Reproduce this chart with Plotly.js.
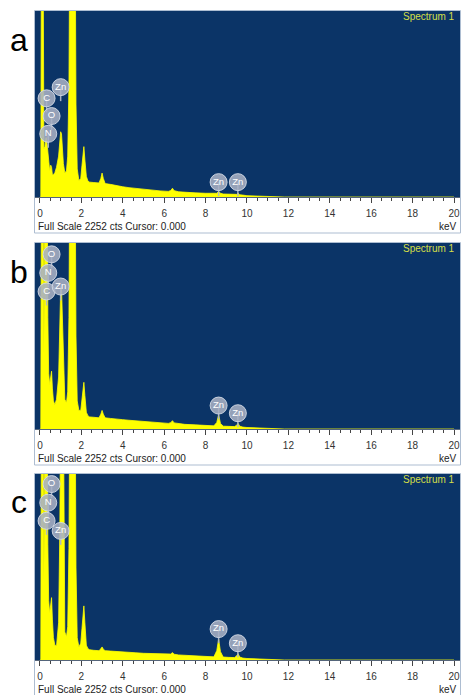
<!DOCTYPE html>
<html><head><meta charset="utf-8">
<script src="https://cdn.plot.ly/plotly-3.0.1.min.js"></script>
<style>html,body{margin:0;padding:0;background:#fff;}#chart{width:461px;height:695px;}</style>
</head><body><div id="chart"></div>
<script>
// ---------- data ----------
const energyKeV = [
  0.00, 0.04, 0.07, 0.15, 0.19, 0.24, 0.28, 0.30, 0.35, 0.38,
  0.42, 0.47, 0.52, 0.56, 0.60, 0.65, 0.72, 0.80, 0.90, 0.96,
  1.00, 1.04, 1.08, 1.13, 1.20, 1.28, 1.34, 1.40, 1.44, 1.70,
  1.74, 1.80, 1.88, 1.97, 2.03, 2.08, 2.12, 2.17, 2.24, 2.32,
  2.40, 2.60, 2.85, 2.94, 3.00, 3.06, 3.15, 3.40, 3.70, 4.00,
  4.30, 4.60, 5.00, 5.40, 5.80, 6.20, 6.32, 6.40, 6.48, 6.70,
  7.00, 7.50, 8.00, 8.40, 8.54, 8.63, 8.72, 8.85, 9.10, 9.40,
  9.50, 9.57, 9.65, 9.80, 10.00, 10.50, 11.00, 11.50, 11.75, 11.80,
  20.00];
const countsA = [
  0, 0, 3200, 3200, 585, 610, 700, 720, 630, 540,
  430, 315, 385, 360, 270, 270, 295, 360, 495, 675,
  790, 765, 610, 405, 295, 315, 495, 1350, 3200, 3200,
  1125, 340, 200, 225, 385, 585, 610, 450, 250, 190,
  180, 175, 170, 225, 290, 225, 162, 153, 135, 124,
  113, 104, 90, 81, 74, 68, 79, 106, 77, 63,
  56, 50, 45, 41, 45, 68, 45, 36, 32, 27,
  32, 45, 27, 23, 16, 11, 9, 9, 7, 0,
  0];
const countsB = [
  0, 0, 3200, 3200, 900, 3200, 3200, 3200, 3200, 1350,
  675, 540, 650, 700, 495, 340, 295, 360, 630, 1350,
  1690, 1710, 1350, 675, 360, 315, 450, 1350, 3200, 3200,
  1125, 340, 225, 225, 360, 540, 565, 405, 203, 158,
  146, 142, 135, 180, 225, 180, 135, 128, 117, 113,
  106, 99, 90, 81, 74, 68, 77, 101, 74, 63,
  56, 50, 41, 38, 79, 171, 68, 34, 32, 29,
  45, 68, 34, 23, 18, 14, 11, 9, 7, 0,
  0];
const countsC = [
  0, 0, 3200, 3200, 945, 3200, 3200, 3200, 3200, 1400,
  720, 565, 675, 755, 495, 270, 180, 170, 450, 1575,
  3200, 3200, 3200, 3200, 340, 280, 405, 1350, 3200, 3200,
  1125, 270, 158, 203, 385, 610, 655, 450, 180, 135,
  124, 117, 113, 135, 158, 131, 113, 108, 101, 97,
  92, 88, 81, 77, 72, 68, 72, 90, 70, 61,
  56, 50, 41, 38, 113, 252, 101, 36, 32, 29,
  50, 77, 36, 23, 18, 14, 11, 9, 7, 0,
  0];
const fullScaleCts = 2252;
const panelLetters = ['a', 'b', 'c'];

const labelNamesA = ['C', 'Zn', 'O', 'N', 'Zn', 'Zn'];
const labelKeVA   = [0.32, 1.00, 0.56, 0.40, 8.63, 9.56];
const labelCtsA   = [1195, 1330, 980, 765, 180, 180];
const labelNamesB = ['O', 'N', 'C', 'Zn', 'Zn', 'Zn'];
const labelKeVB   = [0.56, 0.40, 0.32, 1.00, 8.63, 9.56];
const labelCtsB   = [2115, 1890, 1665, 1725, 284, 191];
const labelNamesC = ['O', 'N', 'C', 'Zn', 'Zn', 'Zn'];
const labelKeVC   = [0.56, 0.40, 0.32, 1.00, 8.63, 9.56];
const labelCtsC   = [2130, 1905, 1685, 1563, 374, 203];

const xTickVals = [0, 2, 4, 6, 8, 10, 12, 14, 16, 18, 20];
const xTickText = ['0', '2', '4', '6', '8', '10', '12', '14', '16', '18', '20'];
const footerText = 'Full Scale 2252 cts Cursor: 0.000';
const unitText = 'keV';
const spectrumName = 'Spectrum 1';

// ---------- layout ----------
const W = 461, H = 695;
const X = p => p / W, Y = p => 1 - p / H;
const NAVY = '#0b3467', YELLOW = '#ffff00';
const geom = [{top: 11, bottom: 197}, {top: 243, bottom: 429}, {top: 474, bottom: 660}];
const series = [countsA, countsB, countsC];
const labels = [
  {n: labelNamesA, x: labelKeVA, y: labelCtsA},
  {n: labelNamesB, x: labelKeVB, y: labelCtsB},
  {n: labelNamesC, x: labelKeVC, y: labelCtsC}];

const data = [], shapes = [], annotations = [];
const layout = {
  width: W, height: H, margin: {l: 0, r: 0, t: 0, b: 0},
  paper_bgcolor: '#ffffff', plot_bgcolor: NAVY, showlegend: false, hovermode: false
};

geom.forEach((g, i) => {
  const sfx = i === 0 ? '' : String(i + 1);
  const hPx = g.bottom - g.top;
  layout['xaxis' + sfx] = {
    domain: [X(35), X(460)], range: [-0.24, 20.29], anchor: 'y' + sfx,
    tickvals: xTickVals, ticktext: xTickText, ticks: 'outside', ticklen: 5,
    tickcolor: '#444', tickwidth: 1, ticklabelstandoff: 2, ticklabeloverflow: 'allow',
    minor: {dtick: 0.5, tick0: 0, ticks: 'outside', ticklen: 3, tickcolor: '#444', tickwidth: 1},
    showline: true, linecolor: '#55657a', linewidth: 1, mirror: false,
    showgrid: false, zeroline: false, fixedrange: true,
    tickfont: {family: 'Arial, Liberation Sans, sans-serif', size: 10, color: '#333'}
  };
  layout['yaxis' + sfx] = {
    domain: [Y(g.bottom), Y(g.top)], range: [0, fullScaleCts], anchor: 'x' + sfx,
    visible: false, showgrid: false, zeroline: false, fixedrange: true
  };
  data.push({
    type: 'scatter', mode: 'lines', x: energyKeV, y: series[i],
    xaxis: 'x' + sfx, yaxis: 'y' + sfx, fill: 'tozeroy', fillcolor: YELLOW,
    line: {color: YELLOW, width: 0.8}
  });
  const stemCts = 14 * fullScaleCts / hPx;
  const L = labels[i];
  data.push({
    type: 'scatter', mode: 'markers+text', x: L.x, y: L.y, text: L.n,
    xaxis: 'x' + sfx, yaxis: 'y' + sfx, cliponaxis: false,
    textposition: 'middle center',
    textfont: {family: 'Arial, Liberation Sans, sans-serif', size: 9.5, color: '#ffffff'},
    marker: {size: 17, color: 'rgba(168,176,196,0.88)', line: {color: 'rgba(212,218,230,0.9)', width: 1}},
    error_y: {type: 'data', symmetric: false, array: L.y.map(() => 0), arrayminus: L.y.map(() => stemCts),
      color: 'rgba(175,182,200,0.95)', thickness: 1.5, width: 0}
  });
  shapes.push({type: 'rect', xref: 'paper', yref: 'paper', x0: X(34.5), x1: X(460.5),
    y0: Y(g.bottom + 36), y1: Y(g.top - 0.5), line: {color: '#adbdd1', width: 1},
    fillcolor: 'rgba(0,0,0,0)', layer: 'above'});
  annotations.push({xref: 'paper', yref: 'paper', x: X(36), y: Y(g.bottom + 29),
    xanchor: 'left', yanchor: 'middle', showarrow: false, text: footerText,
    font: {family: 'Arial, Liberation Sans, sans-serif', size: 10, color: '#222'}});
  annotations.push({xref: 'paper', yref: 'paper', x: X(459), y: Y(g.bottom + 29),
    xanchor: 'right', yanchor: 'middle', showarrow: false, text: unitText,
    font: {family: 'Arial, Liberation Sans, sans-serif', size: 10, color: '#222'}});
  annotations.push({xref: 'paper', yref: 'paper', x: X(457), y: Y(g.top + 5.5),
    xanchor: 'right', yanchor: 'middle', showarrow: false, text: spectrumName,
    font: {family: 'Arial, Liberation Sans, sans-serif', size: 10, color: '#d4df48'}});
  annotations.push({xref: 'paper', yref: 'paper', x: X(19), y: Y(g.top + 28.5),
    xanchor: 'center', yanchor: 'middle', showarrow: false, text: panelLetters[i],
    font: {family: 'Arial, Liberation Sans, sans-serif', size: 32, color: '#000'}});
});
layout.shapes = shapes;
layout.annotations = annotations;

Plotly.newPlot('chart', data, layout, {staticPlot: true, displayModeBar: false});
</script>
</body></html>
